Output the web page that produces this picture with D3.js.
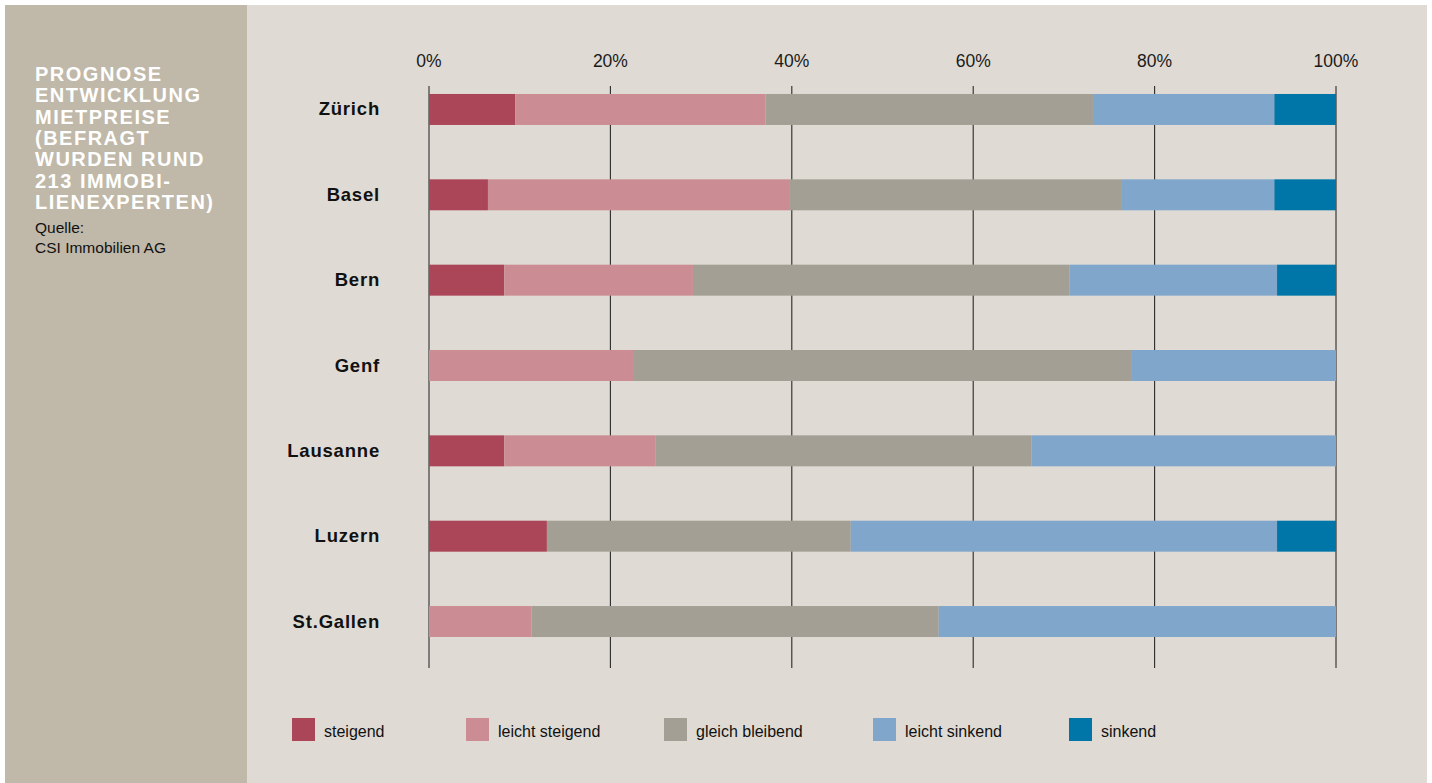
<!DOCTYPE html>
<html>
<head>
<meta charset="utf-8">
<script src="https://cdn.jsdelivr.net/npm/d3@7"></script>
<style>
  body { margin: 0; background: #fff; }
  svg { display: block; font-family: "Liberation Sans", Arial, Helvetica, sans-serif; }
</style>
</head>
<body>
<div id="chart"></div>
<script>
// Data (percent of respondents)
const cities = ["Zürich", "Basel", "Bern", "Genf", "Lausanne", "Luzern", "St.Gallen"];
const categories = ["steigend", "leicht steigend", "gleich bleibend", "leicht sinkend", "sinkend"];
const steigend       = [9.5, 6.5, 8.3, 0, 8.3, 13.0, 0];
const leichtSteigend = [27.6, 33.2, 20.8, 22.6, 16.7, 0, 11.3];
const gleichBleibend = [36.1, 36.7, 41.5, 54.9, 41.4, 33.5, 44.9];
const leichtSinkend  = [20.0, 16.8, 22.9, 22.5, 33.6, 47.0, 43.8];
const sinkend        = [6.8, 6.8, 6.5, 0, 0, 6.5, 0];
const tickValues = [0, 20, 40, 60, 80, 100];
const titleLines = ["PROGNOSE", "ENTWICKLUNG", "MIETPREISE", "(BEFRAGT", "WURDEN RUND", "213 IMMOBI-", "LIENEXPERTEN)"];
const sourceLines = ["Quelle:", "CSI Immobilien AG"];

const colors = ["#ab4558", "#cc8c93", "#a39f94", "#80a6cb", "#0076a8"];

const W = 1432, H = 783;

// Build table for the stack
const seriesValues = [steigend, leichtSteigend, gleichBleibend, leichtSinkend, sinkend];
const table = cities.map((c, i) => {
    const row = {city: c};
    categories.forEach((k, j) => row[k] = seriesValues[j][i]);
    return row;
});
const stacked = d3.stack().keys(categories)(table);

const svg = d3.select("#chart")
    .append("svg")
    .attr("width", W)
    .attr("height", H);

// Panels
svg.append("rect").attr("x", 5).attr("y", 5).attr("width", 242).attr("height", H - 5).attr("fill", "#c0b8a8");
svg.append("rect").attr("x", 247).attr("y", 5).attr("width", W - 5 - 247).attr("height", H - 5).attr("fill", "#dfdbd4");

// Title
svg.append("g")
    .selectAll("text")
    .data(titleLines)
    .enter().append("text")
    .attr("x", 35)
    .attr("y", (d, i) => 81 + i * 21.3)
    .attr("fill", "#fff")
    .style("font-size", "20px")
    .style("font-weight", "bold")
    .style("letter-spacing", "1.5px")
    .text(d => d);

svg.append("g")
    .selectAll("text")
    .data(sourceLines)
    .enter().append("text")
    .attr("x", 35)
    .attr("y", (d, i) => 233 + i * 20)
    .attr("fill", "#111")
    .style("font-size", "15.5px")
    .text(d => d);

// Scales
const x = d3.scaleLinear().domain([0, 100]).range([429, 1336]);
const y = d3.scaleBand().domain(cities).range([66.8, 664.2]).paddingInner(0.637).paddingOuter(0.3185);

// Grid lines
svg.append("g")
    .selectAll("line")
    .data(tickValues)
    .enter().append("line")
    .attr("x1", d => x(d))
    .attr("x2", d => x(d))
    .attr("y1", 86)
    .attr("y2", 668)
    .attr("stroke", (d, i) => i === 0 ? "#555" : "#2a2a2a")
    .attr("stroke-width", (d, i) => i === 0 ? 1.4 : 1.1);

// Tick labels
svg.append("g")
    .selectAll("text")
    .data(tickValues)
    .enter().append("text")
    .attr("x", d => x(d))
    .attr("y", 67)
    .attr("text-anchor", "middle")
    .attr("fill", "#1a1a1a")
    .style("font-size", "17.5px")
    .text(d => d + "%");

// Bars
svg.append("g")
    .selectAll("g")
    .data(stacked)
    .enter().append("g")
    .attr("fill", (d, i) => colors[i])
    .selectAll("rect")
    .data(d => d.filter(p => p[1] - p[0] > 0))
    .enter().append("rect")
    .attr("x", d => x(d[0]))
    .attr("y", d => y(d.data.city))
    .attr("width", d => x(d[1]) - x(d[0]))
    .attr("height", y.bandwidth());

// City labels
svg.append("g")
    .selectAll("text")
    .data(cities)
    .enter().append("text")
    .attr("x", 380)
    .attr("y", d => y(d) + y.bandwidth() / 2 + 6)
    .attr("text-anchor", "end")
    .attr("fill", "#111")
    .style("font-size", "18.5px")
    .style("font-weight", "bold")
    .style("letter-spacing", "0.8px")
    .text(d => d);

// Legend
const legendX = [292, 466, 664, 873, 1069];
const legend = svg.append("g")
    .selectAll("g")
    .data(categories)
    .enter().append("g")
    .attr("transform", (d, i) => "translate(" + legendX[i] + ",718)");

legend.append("rect")
    .attr("width", 23)
    .attr("height", 23)
    .attr("fill", (d, i) => colors[i]);

legend.append("text")
    .attr("x", 32)
    .attr("y", 19)
    .attr("fill", "#111")
    .style("font-size", "16px")
    .text(d => d);
</script>
</body>
</html>
